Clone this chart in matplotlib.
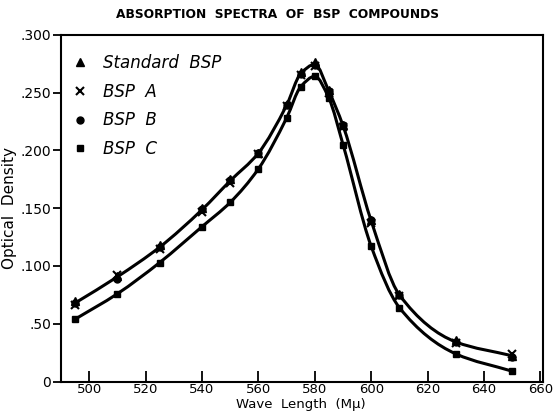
import matplotlib
matplotlib.use("Agg")
import matplotlib.pyplot as plt
from matplotlib.path import Path
from matplotlib.patches import PathPatch
import numpy as np

wavelength = [495, 510, 525, 540, 550, 560, 570, 575, 580, 585, 590, 600, 610, 630, 650]
standard_bsp = [0.070, 0.091, 0.118, 0.150, 0.175, 0.198, 0.240, 0.268, 0.276, 0.252, 0.222, 0.140, 0.076, 0.036, 0.022]
bsp_a = [0.066, 0.092, 0.115, 0.147, 0.172, 0.197, 0.238, 0.265, 0.273, 0.250, 0.220, 0.137, 0.074, 0.033, 0.024]
bsp_b = [0.068, 0.089, 0.116, 0.149, 0.174, 0.198, 0.239, 0.266, 0.274, 0.251, 0.222, 0.140, 0.075, 0.034, 0.021]
bsp_c = [0.054, 0.076, 0.103, 0.134, 0.155, 0.184, 0.228, 0.255, 0.264, 0.245, 0.205, 0.117, 0.064, 0.024, 0.009]

x_ticks = [500, 520, 540, 560, 580, 600, 620, 640, 660]
y_ticks = [0, 0.05, 0.10, 0.15, 0.20, 0.25, 0.30]
y_tick_labels = ["0", ".50", ".100", ".150", ".200", ".250", ".300"]


def smooth_path(xs, ys):
    """Monotone cubic (Fritsch-Carlson) Bezier path through the data points."""
    x = np.asarray(xs, float)
    y = np.asarray(ys, float)
    h = np.diff(x)
    d = np.diff(y) / h
    m = np.zeros_like(y)
    m[0], m[-1] = d[0], d[-1]
    for i in range(1, len(x) - 1):
        if d[i - 1] * d[i] <= 0:
            m[i] = 0.0
        else:
            w1 = 2 * h[i] + h[i - 1]
            w2 = h[i] + 2 * h[i - 1]
            m[i] = (w1 + w2) / (w1 / d[i - 1] + w2 / d[i])
    verts = [(x[0], y[0])]
    codes = [Path.MOVETO]
    for i in range(len(x) - 1):
        verts += [(x[i] + h[i] / 3, y[i] + m[i] * h[i] / 3),
                  (x[i + 1] - h[i] / 3, y[i + 1] - m[i + 1] * h[i] / 3),
                  (x[i + 1], y[i + 1])]
        codes += [Path.CURVE4] * 3
    return Path(verts, codes)


fig = plt.figure(figsize=(5.6, 4.13), dpi=100)
ax = fig.add_axes([0.109, 0.076, 0.861, 0.840])

upper = np.mean([standard_bsp, bsp_a, bsp_b], axis=0)
for series in (upper, bsp_c):
    ax.add_patch(PathPatch(smooth_path(wavelength, series), facecolor="none",
                           edgecolor="black", lw=2.2, zorder=2))

ax.plot(wavelength, standard_bsp, "^", color="black", ms=5.5, label="Standard  BSP", zorder=3)
ax.plot(wavelength, bsp_a, "x", color="black", ms=5.5, mew=1.5, label="BSP  A", zorder=3)
ax.plot(wavelength, bsp_b, "o", color="black", ms=5, label="BSP  B", zorder=3)
ax.plot(wavelength, bsp_c, "s", color="black", ms=5, label="BSP  C", zorder=3)

ax.set_xlim(490, 661)
ax.set_ylim(0, 0.3)
ax.set_xticks(x_ticks)
ax.set_xticklabels([str(v) for v in x_ticks], fontsize=9.5)
ax.set_yticks(y_ticks)
ax.set_yticklabels(y_tick_labels, fontsize=10)
ax.tick_params(axis="x", direction="in", length=8, width=1.3, pad=1)
ax.tick_params(axis="y", direction="out", length=6, width=1.3, pad=1)
for s in ax.spines.values():
    s.set_linewidth(1.5)

ax.set_xlabel("Wave  Length  (Mμ)", fontsize=9.5)
ax.xaxis.set_label_coords(0.497, -0.046)
ax.set_ylabel("Optical  Density", fontsize=11)
ax.yaxis.set_label_coords(-0.092, 0.5)
fig.text(0.495, 0.965, "ABSORPTION  SPECTRA  OF  BSP  COMPOUNDS", ha="center", va="center",
         fontsize=8.8, fontweight="bold")

leg = ax.legend(loc="upper left", bbox_to_anchor=(0.025, 0.945), frameon=False,
                handletextpad=1.0, labelspacing=0.65, borderaxespad=0.0, borderpad=0.0,
                handlelength=0.8, prop={"style": "italic", "size": 12})

fig.savefig("out.png", dpi=100)
